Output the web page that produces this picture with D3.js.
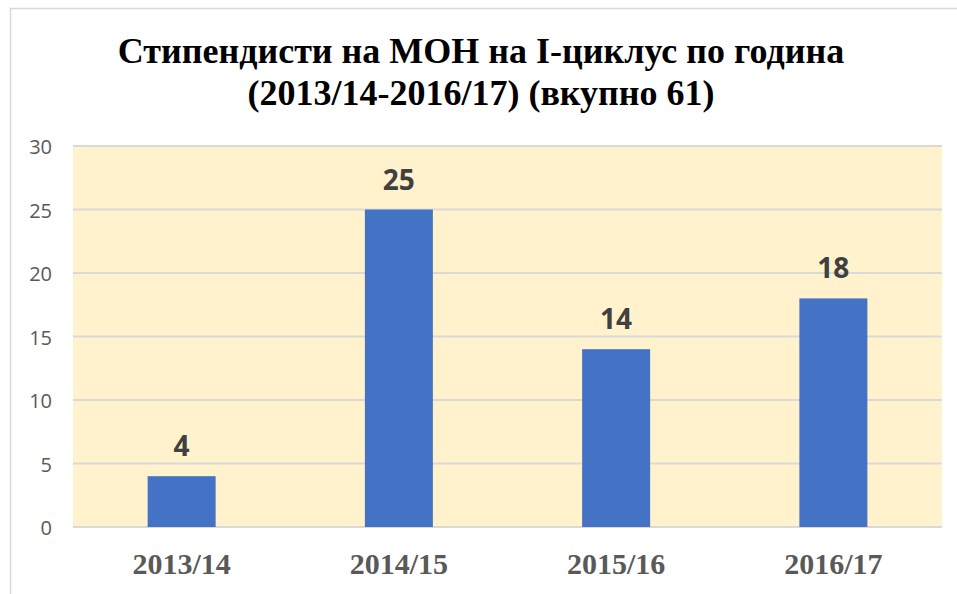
<!DOCTYPE html>
<html lang="bg">
<head>
<meta charset="UTF-8">
<title>Стипендисти на МОН</title>
<script src="https://d3js.org/d3.v7.min.js"></script>
<style>
    body { margin: 0; background: #fff; }
</style>
</head>
<body>
<svg id="chart"></svg>
<script>
    // Data
    const years = ["2013/14", "2014/15", "2015/16", "2016/17"];
    const counts = [4, 25, 14, 18];
    const yTicks = [0, 5, 10, 15, 20, 25, 30];
    const titleLines = ["Стипендисти на МОН на I-циклус по година", "(2013/14-2016/17) (вкупно 61)"];

    // Constants
    const W = 957, H = 594;
    const margin = { top: 146, right: 15, bottom: 67, left: 73 },
        width = W - margin.left - margin.right,
        height = H - margin.top - margin.bottom;

    const svg = d3.select("#chart")
        .attr("width", W)
        .attr("height", H);

    // chart border
    svg.append("rect")
        .attr("x", 10.5).attr("y", 8.5)
        .attr("width", W + 10).attr("height", H + 10)
        .attr("fill", "#fff")
        .attr("stroke", "#d9d9d9")
        .attr("stroke-width", 1.5);

    // title
    svg.append("text")
        .attr("text-anchor", "middle")
        .style("font-family", "'Liberation Serif', serif")
        .style("font-weight", "bold")
        .style("font-size", "36px")
        .attr("fill", "#000")
        .selectAll("tspan")
        .data(titleLines)
        .join("tspan")
        .attr("x", 481)
        .attr("y", (d, i) => 63 + i * 42)
        .text(d => d);

    const g = svg.append("g")
        .attr("transform", "translate(" + margin.left + "," + margin.top + ")");

    const x = d3.scaleBand()
        .domain(years)
        .range([0, width])
        .paddingInner(0.687)
        .paddingOuter(0.3435);

    const y = d3.scaleLinear()
        .domain([0, 30])
        .range([height, 0]);

    // plot background
    g.append("rect")
        .attr("width", width)
        .attr("height", height)
        .attr("fill", "#fff2cc");

    // grid lines
    g.selectAll(".grid")
        .data(yTicks)
        .join("line")
        .attr("class", "grid")
        .attr("x1", 0).attr("x2", width)
        .attr("y1", d => y(d)).attr("y2", d => y(d))
        .attr("stroke", "#d9d9d9")
        .attr("stroke-width", 2);

    // y axis (labels only)
    const yAxis = g.append("g")
        .call(d3.axisLeft(y).tickValues(yTicks).tickSize(0).tickPadding(21));
    yAxis.select(".domain").remove();
    yAxis.selectAll(".tick text")
        .attr("dy", "0.38em")
        .style("font-family", "'Open Sans', sans-serif")
        .style("font-size", "20px")
        .attr("fill", "#595959");

    // bars
    g.selectAll(".bar")
        .data(counts)
        .join("rect")
        .attr("class", "bar")
        .attr("x", (d, i) => x(years[i]))
        .attr("y", d => y(d))
        .attr("width", x.bandwidth())
        .attr("height", d => height - y(d))
        .attr("fill", "#4472c4");

    // value labels
    g.selectAll(".value")
        .data(counts)
        .join("text")
        .attr("class", "value")
        .attr("text-anchor", "middle")
        .attr("x", (d, i) => x(years[i]) + x.bandwidth() / 2)
        .attr("y", d => y(d) - 20)
        .style("font-family", "'Open Sans', sans-serif")
        .style("font-weight", "bold")
        .style("font-size", "28px")
        .attr("fill", "#404040")
        .text(d => d);

    // x labels
    g.selectAll(".xlabel")
        .data(years)
        .join("text")
        .attr("class", "xlabel")
        .attr("text-anchor", "middle")
        .attr("x", d => x(d) + x.bandwidth() / 2)
        .attr("y", height + 47)
        .style("font-family", "'Liberation Serif', serif")
        .style("font-weight", "bold")
        .style("font-size", "30px")
        .attr("fill", "#595959")
        .text(d => d);
</script>
</body>
</html>
